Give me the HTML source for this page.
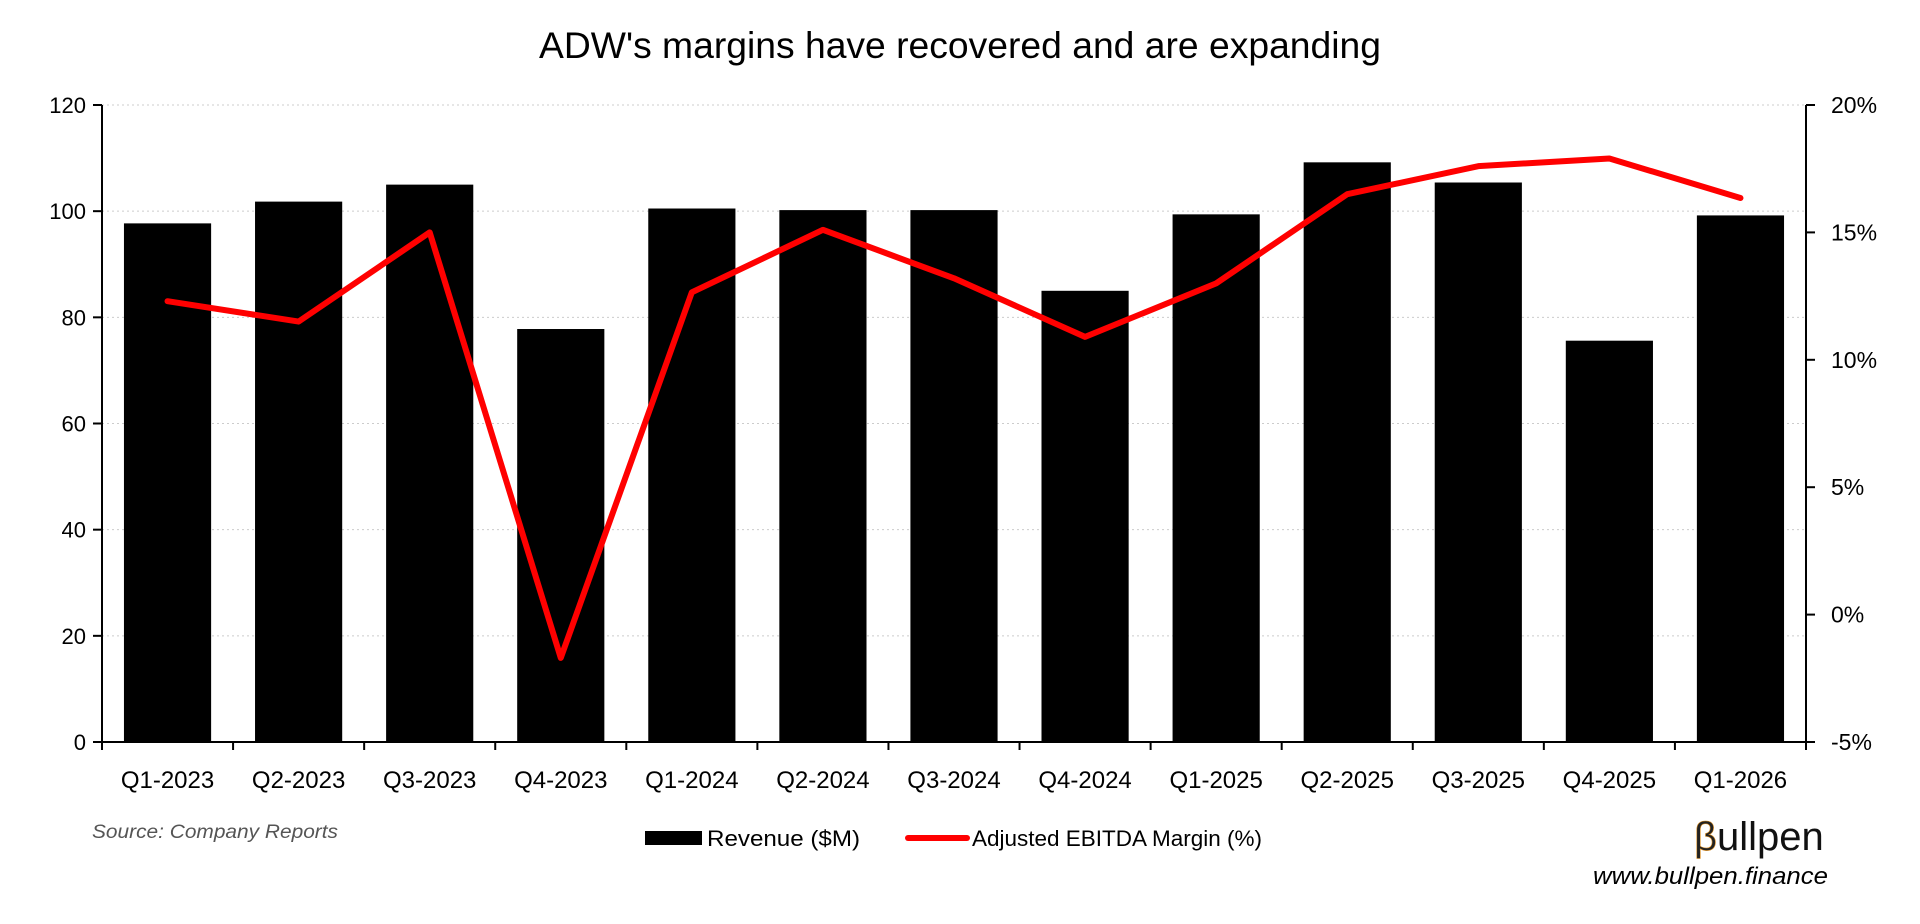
<!DOCTYPE html>
<html><head><meta charset="utf-8"><style>
html,body{margin:0;padding:0;background:#fff;}
svg{display:block;font-family:"Liberation Sans",sans-serif;}
</style></head><body>
<svg id="chart" width="1920" height="924">
<text x="960" y="58" text-anchor="middle" font-size="37" textLength="842" lengthAdjust="spacingAndGlyphs">ADW's margins have recovered and are expanding</text>
<g id="grid"></g><g id="bars"></g><g id="axes"></g><g id="line"></g>
<text x="92" y="838" font-size="19" font-style="italic" fill="#555" textLength="246" lengthAdjust="spacingAndGlyphs">Source: Company Reports</text>
<g>
<rect x="645" y="831" width="57" height="14" fill="#000"/>
<text x="707" y="846" font-size="22" textLength="153" lengthAdjust="spacingAndGlyphs">Revenue ($M)</text>
<line x1="908" y1="838" x2="967" y2="838" stroke="#f00" stroke-width="6" stroke-linecap="round"/>
<text x="972" y="846" font-size="22" textLength="290" lengthAdjust="spacingAndGlyphs">Adjusted EBITDA Margin (%)</text>
</g>
<text x="1694" y="850" font-size="40" fill="#111"><tspan fill="#222" stroke="#d88a1c" stroke-width="0.6">β</tspan>ullpen</text>
<text x="1828" y="884" text-anchor="end" font-size="24" font-style="italic" textLength="235" lengthAdjust="spacingAndGlyphs">www.bullpen.finance</text>
</svg>
<script>
const categories=["Q1-2023","Q2-2023","Q3-2023","Q4-2023","Q1-2024","Q2-2024","Q3-2024","Q4-2024","Q1-2025","Q2-2025","Q3-2025","Q4-2025","Q1-2026"];
const revenue=[97.7,101.8,105,77.8,100.5,100.2,100.2,85,99.4,109.2,105.4,75.6,99.2];
const margin=[12.3,11.5,15.0,-1.7,12.65,15.1,13.2,10.9,13.0,16.5,17.6,17.9,16.35];
const leftTicks=[0,20,40,60,80,100,120];
const rightTicks=[-5,0,5,10,15,20];
const NS="http://www.w3.org/2000/svg";
const L=102,R=1806,T=105,B=742;
const band=(R-L)/categories.length;
const xc=i=>L+band*(i+0.5);
const yL=v=>B-(v-0)/(120-0)*(B-T);
const yR=v=>B-(v+5)/(25)*(B-T);
function mk(p,tag,a){const e=document.createElementNS(NS,tag);for(const k in a)e.setAttribute(k,a[k]);document.getElementById(p).appendChild(e);return e;}
leftTicks.forEach(v=>{if(v>0){const g=mk('grid','line',{x1:L,x2:R,y1:yL(v),y2:yL(v),stroke:'#ccc','stroke-width':1,'stroke-dasharray':'2,3'});

}
const t=mk('axes','text',{x:L-16,y:yL(v)+8,'text-anchor':'end','font-size':22});t.textContent=v;


mk('axes','line',{x1:L-9,x2:L,y1:yL(v),y2:yL(v),stroke:'#000','stroke-width':2});});
rightTicks.forEach(v=>{const t=mk('axes','text',{x:R+25,y:yR(v)+8,'font-size':23});t.textContent=v+'%';


mk('axes','line',{x1:R,x2:R+9,y1:yR(v),y2:yR(v),stroke:'#000','stroke-width':2});});
const bw=band*0.665;
categories.forEach((c,i)=>{const b=mk('bars','rect',{x:xc(i)-bw/2,y:yL(revenue[i]),width:bw,height:B-yL(revenue[i]),fill:'#000'});


const t=mk('axes','text',{x:xc(i),y:788,'text-anchor':'middle','font-size':24});t.textContent=c;


mk('axes','line',{x1:L+band*i,x2:L+band*i,y1:B,y2:B+8,stroke:'#000','stroke-width':2});});
mk('axes','line',{x1:R,x2:R,y1:B,y2:B+8,stroke:'#000','stroke-width':2});
const ax=mk('axes','path',{d:`M${L},${T} V${B} H${R} V${T}`,fill:'none',stroke:'#000','stroke-width':2});


const pl=mk('line','polyline',{points:margin.map((v,i)=>xc(i)+','+yR(v)).join(' '),fill:'none',stroke:'#f00','stroke-width':6,'stroke-linejoin':'round','stroke-linecap':'round'});


</script>
</body></html>
